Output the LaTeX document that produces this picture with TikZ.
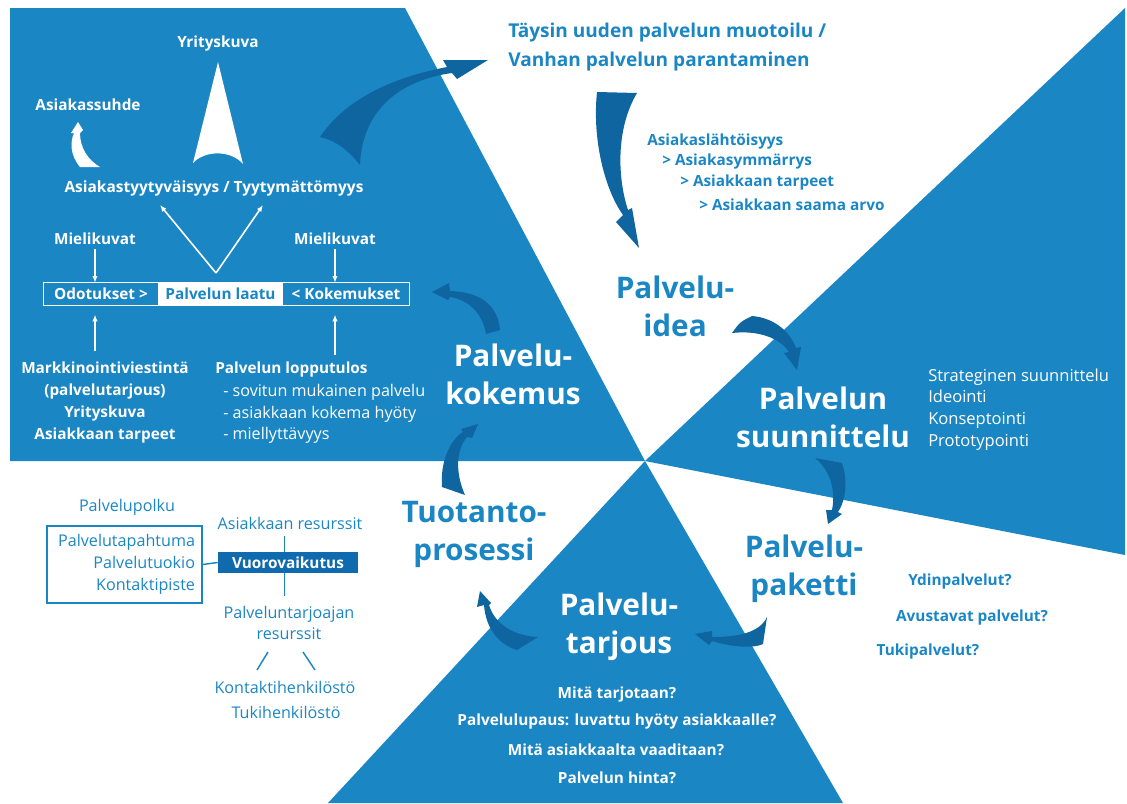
\documentclass[tikz,border=0pt]{standalone}
\usepackage{fontspec}
\setmainfont{Open Sans}
\usetikzlibrary{arrows.meta,calc}
\definecolor{mainblue}{RGB}{27,134,196}
\definecolor{swooshblue}{RGB}{14,101,160}
\definecolor{boxblue}{RGB}{16,106,174}

\begin{document}
\begin{tikzpicture}[
    x=0.75pt, y=-0.75pt,
    swoosh/.style={fill=swooshblue},
    wswoosh/.style={fill=white},
    wtxt/.style={text=white, inner sep=0pt},
    btxt/.style={text=mainblue, inner sep=0pt},
    bigtxt/.style={font=\bfseries\fontsize{22.3}{28.5}\selectfont, align=center},
    titletxt/.style={font=\bfseries\fontsize{14.3}{21.75}\selectfont, align=left},
    medtxt/.style={font=\bfseries\fontsize{11.5}{16.5}\selectfont},
    regtxt/.style={font=\fontsize{12.1}{16.3}\selectfont},
    warrow/.style={draw=white, line width=1.2pt, -{Latex[length=5pt,width=4pt]}},
    bline/.style={draw=mainblue, line width=1.1pt}
]
\useasboundingbox (0,0) rectangle (1127,803);
% sectors
\fill[mainblue] (10,8) -- (405,8) -- (645,461) -- (10,461) -- cycle;
\fill[mainblue] (645,461) -- (1125,8) -- (1125,555) -- cycle;
\fill[mainblue] (645,461) -- (843,803) -- (328,803) -- cycle;

% swooshes between phases
\fill[swoosh] (320,137) .. controls (345,100) and (390,78) .. (447,67) -- (443,60) -- (488,60)
  -- (457,79) -- (452,73) .. controls (400,80) and (362,110) .. (360,165)
  .. controls (348,150) and (335,140) .. (320,137) -- cycle;
\fill[swoosh] (597,92) .. controls (592,140) and (605,190) .. (623,215) -- (616,222) -- (639,248)
  -- (632,208) -- (628,210) .. controls (618,180) and (615,130) .. (637,93) -- cycle;
\fill[swoosh] (732,333) .. controls (740,322) .. (752,316) .. controls (775,318) and (790,332) .. (796,348)
  -- (801,347) -- (797,370) -- (784,353) -- (789,352) .. controls (780,338) and (758,330) .. (732,333) -- cycle;
\fill[swoosh] (815,458) -- (842,463) .. controls (848,480) and (846,500) .. (838,512) -- (842,514)
  -- (828,524) -- (826,510) -- (832,510) .. controls (836,490) and (830,470) .. (815,458) -- cycle;
\fill[swoosh] (767,617) .. controls (760,632) and (740,637) .. (712,637) -- (712,631) -- (695,634)
  -- (709,645) -- (712,641) .. controls (735,648) and (755,648) .. (763,644) -- cycle;
\fill[swoosh] (538,637) .. controls (515,636) and (495,625) .. (489,605) -- (491,603) -- (480,591)
  -- (477,607) -- (484,605) .. controls (486,630) and (500,645) .. (517,650) -- cycle;
\fill[swoosh] (442,487) .. controls (440,462) and (450,440) .. (463,432) -- (461,429) -- (478,424)
  -- (472,438) -- (467,437) .. controls (456,450) and (455,472) .. (465,495) -- cycle;
\fill[swoosh] (500,330) .. controls (498,305) and (480,292) .. (450,291) -- (449,283) -- (432,292)
  -- (448,300) -- (450,297) .. controls (470,300) and (483,315) .. (486,334) -- cycle;

% white shapes
\fill[wswoosh] (218,62) -- (243,164) .. controls (231,150) and (205,150) .. (193,163) -- cycle;
\fill[wswoosh] (80,167) .. controls (70,155) and (70,142) .. (74,133) -- (71,133) -- (78,122)
  -- (83,130) -- (80,133) .. controls (80,148) and (88,160) .. (100,167) -- cycle;

% customer experience
\node[wtxt, medtxt] (yrkuva) at (218,44) {Yrityskuva};
\node[wtxt, medtxt] (suhde) at (88,105) {Asiakassuhde};
\node[wtxt, medtxt, font=\bfseries\fontsize{11.6}{14}\selectfont] (tyyt) at (214,188) {Asiakastyytyväisyys / Tyytymättömyys};
\node[wtxt, medtxt] (mieliL) at (95,239) {Mielikuvat};
\node[wtxt, medtxt] (mieliR) at (335,239) {Mielikuvat};
\node[wtxt, medtxt, minimum width=85.5pt, minimum height=16.5pt] (odot) at (101,294) {Odotukset >};
\node[btxt, medtxt, fill=white, minimum width=93.75pt, minimum height=16.5pt] (laatu) at (220.5,294) {Palvelun laatu};
\node[wtxt, medtxt, minimum width=94.5pt, minimum height=16.5pt] (koke) at (346,294) {< Kokemukset};
\draw[white, line width=0.8pt] (odot.north west) rectangle (koke.south east);
\node[wtxt, medtxt, align=center] (markk) at (105,403)
  {Markkinointiviestintä\\(palvelutarjous)\\Yrityskuva\\Asiakkaan tarpeet};
\node[wtxt, medtxt, anchor=west] (loppu) at (215,370) {Palvelun lopputulos};
\node[wtxt, regtxt, anchor=west, align=left] (lista) at (223,414)
  {- sovitun mukainen palvelu\\- asiakkaan kokema hyöty\\- miellyttävyys};
\coordinate (vbot) at (216,273);
\coordinate (vleft) at (160,205);
\coordinate (vright) at (263,205);
\draw[warrow] (vbot) -- (vleft);
\draw[warrow] (vbot) -- (vright);
\draw[warrow, shorten <=3pt] (mieliL.south) -- (mieliL.south |- odot.north);
\draw[warrow, shorten <=3pt] (mieliR.south) -- (mieliR.south |- koke.north);
\draw[warrow, shorten <=8pt, shorten >=7pt] (markk.north -| mieliL) -- (mieliL |- odot.south);
\draw[warrow, shorten <=5pt, shorten >=7pt] (loppu.north -| mieliR) -- (mieliR |- koke.south);

% phase labels
\node[wtxt, bigtxt] (kokemus) at (513,374) {Palvelu-\\kokemus};
\node[btxt, bigtxt] (idea) at (675,306) {Palvelu-\\idea};
\node[wtxt, bigtxt] (suunn) at (823,417) {Palvelun\\suunnittelu};
\node[btxt, bigtxt] (paketti) at (804,569) {Palvelu-\\paketti};
\node[wtxt, bigtxt] (tarjous) at (619,627) {Palvelu-\\tarjous};
\node[btxt, bigtxt] (tuotanto) at (474,534) {Tuotanto-\\prosessi};

% service idea
\node[btxt, titletxt, anchor=west] (taysin) at (508,47.5)
  {Täysin uuden palvelun muotoilu /\\Vanhan palvelun parantaminen};
\node[btxt, medtxt, anchor=west] (lahto) at (647,142) {Asiakaslähtöisyys};
\node[btxt, medtxt, anchor=west] (ymm) at (662,162) {> Asiakasymmärrys};
\node[btxt, medtxt, anchor=west] (tarp) at (680,183) {> Asiakkaan tarpeet};
\node[btxt, medtxt, anchor=west] (arvo) at (699,205) {> Asiakkaan saama arvo};

% design
\node[wtxt, regtxt, font=\fontsize{12.4}{16.3}\selectfont, anchor=west, align=left] (vaiheet) at (928,409.5)
  {Strateginen suunnittelu\\Ideointi\\Konseptointi\\Prototypointi};

% package
\node[btxt, medtxt] (ydin) at (960,582) {Ydinpalvelut?};
\node[btxt, medtxt] (avust) at (972,618) {Avustavat palvelut?};
\node[btxt, medtxt] (tuki) at (928,652) {Tukipalvelut?};

% offering
\node[wtxt, medtxt] (q1) at (617,695) {Mitä tarjotaan?};
\node[wtxt, medtxt] (q2) at (617,722) {Palvelulupaus: luvattu hyöty asiakkaalle?};
\node[wtxt, medtxt] (q3) at (616,750) {Mitä asiakkaalta vaaditaan?};
\node[wtxt, medtxt] (q4) at (617,778) {Palvelun hinta?};

% production process
\node[btxt, regtxt] (polku) at (127,507) {Palvelupolku};
\node[btxt, regtxt, bline, draw, align=right, text width=105.75pt, inner xsep=5.25pt,
  minimum height=57.75pt] (polkubox) at (124.5,564.5)
  {Palvelutapahtuma\\Palvelutuokio\\Kontaktipiste};
\node[wtxt, medtxt, fill=boxblue, minimum width=105pt, minimum height=15.75pt] (vuoro) at (288,562.5) {Vuorovaikutus};
\node[btxt, regtxt] (asres) at (290,523) {Asiakkaan resurssit};
\node[btxt, regtxt, align=center, font=\fontsize{12.1}{15.75}\selectfont] (ptres) at (289,622.5)
  {Palveluntarjoajan\\resurssit};
\node[btxt, regtxt] (konthk) at (285,687) {Kontaktihenkilöstö};
\node[btxt, regtxt] (tukihk) at (286,712) {Tukihenkilöstö};
\coordinate (vlx) at (284.5,0);
\draw[bline] (polkubox.east) -- (vuoro.west);
\draw[bline, shorten <=5pt] (asres.south -| vlx) -- (vuoro.north -| vlx);
\draw[bline, shorten >=7pt] (vuoro.south -| vlx) -- (ptres.north -| vlx);
\coordinate (s1a) at (257,670); \coordinate (s1b) at (268,652);
\coordinate (s2a) at (303,652); \coordinate (s2b) at (315,670);
\draw[bline] (s1a) -- (s1b);
\draw[bline] (s2a) -- (s2b);
\end{tikzpicture}
\end{document}
